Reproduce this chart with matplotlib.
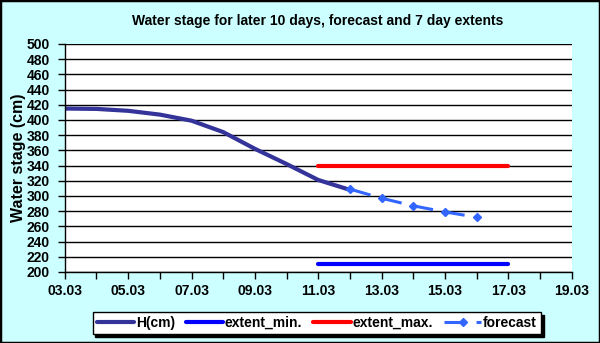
import matplotlib
matplotlib.use("Agg")
import matplotlib.pyplot as plt
from matplotlib.patches import Rectangle
from matplotlib.ticker import MultipleLocator

plt.rcParams['font.family'] = ['Liberation Sans', 'DejaVu Sans']

# Data (day of March)
h_days = [3, 4, 5, 6, 7, 8, 9, 10, 11, 12]
h_vals = [415, 414.5, 412, 407, 399, 384, 362, 342, 321, 308]
ext_days = [11, 17]
ext_min = [210, 210]
ext_max = [340, 340]
fc_days = [12, 13, 14, 15, 16]
fc_vals = [309, 297, 287, 279, 272]
xtick_days = [3, 5, 7, 9, 11, 13, 15, 17, 19]
xtick_labels = ["03.03", "05.03", "07.03", "09.03", "11.03", "13.03", "15.03", "17.03", "19.03"]

fig = plt.figure(figsize=(6.0, 3.43), dpi=100)
fig.patch.set_facecolor('#CCFFFF')
ax = fig.add_axes([0.108, 0.207, 0.845, 0.665])
ax.set_facecolor('white')

ax.plot(h_days, h_vals, color='#333399', lw=3.0, label='H(cm)', solid_capstyle='round')
ax.plot(ext_days, ext_min, color='#0000FF', lw=3.0, label='extent_min.', solid_capstyle='round')
ax.plot(ext_days, ext_max, color='#FF0000', lw=3.0, label='extent_max.', solid_capstyle='round')
ax.plot(fc_days, fc_vals, color='#3366FF', lw=2.2, dashes=(7, 3.5), marker='D', ms=4.5,
        mfc='#3366FF', mec='#3366FF', label='forecast')

ax.set_xlim(3, 19)
ax.set_ylim(200, 500)
ax.set_xticks(xtick_days)
ax.set_xticklabels(xtick_labels)
ax.xaxis.set_minor_locator(MultipleLocator(1))
ax.yaxis.set_major_locator(MultipleLocator(20))
ax.grid(axis='y', color='black', lw=1.0)
ax.set_axisbelow(True)
for s in ['top', 'right']:
    ax.spines[s].set_visible(False)
for s in ['left', 'bottom']:
    ax.spines[s].set_color('black')
    ax.spines[s].set_linewidth(1.0)
ax.tick_params(axis='both', which='both', direction='out', length=5, width=1, color='black')
for lbl in ax.get_xticklabels() + ax.get_yticklabels():
    lbl.set_fontweight('bold')
    lbl.set_fontsize(10)
ax.tick_params(axis='x', pad=4)
ax.tick_params(axis='y', pad=6)

ax.set_ylabel('Water stage (cm)', fontsize=11.5, fontweight='bold', labelpad=0)
fig.text(0.53, 0.94, 'Water stage for later 10 days, forecast and 7 day extents',
         ha='center', va='center', fontsize=10, fontweight='bold')

leg = fig.legend(loc='center', bbox_to_anchor=(0.528, 0.058), ncol=4, frameon=True,
                 fancybox=False, shadow={'color': 'black', 'alpha': 1.0}, edgecolor='black',
                 prop={'weight': 'bold', 'size': 10}, handlelength=2.7, handletextpad=0.1,
                 columnspacing=0.8, borderpad=0.3, borderaxespad=0)
leg.get_frame().set_linewidth(1.0)

fig.patches.append(Rectangle((0, 0), 1, 1, transform=fig.transFigure, fill=False,
                             edgecolor='black', lw=2.5, zorder=10))

fig.savefig('out.png', dpi=100, facecolor=fig.get_facecolor())
